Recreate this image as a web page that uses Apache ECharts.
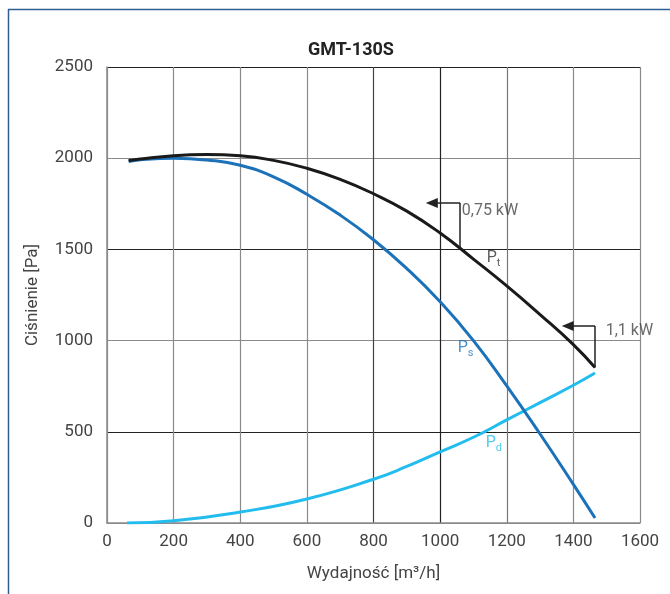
<!DOCTYPE html>
<html><head><meta charset="utf-8">
<script src="https://cdn.jsdelivr.net/npm/echarts@6/dist/echarts.min.js"></script>
<style>html,body{margin:0;padding:0;background:#fff}#c{width:670px;height:594px}</style>
</head><body><div id="c"></div>
<script>
// Data
const flowPt = [65, 100, 200, 300, 400, 500, 600, 700, 800, 900, 1000, 1100, 1200, 1300, 1400, 1465];
const valPt  = [1987, 1996, 2014, 2020, 2013, 1988, 1945, 1884, 1805, 1710, 1590, 1447, 1300, 1143, 978, 852];
const flowPs = [65, 100, 200, 300, 400, 500, 600, 700, 800, 900, 1000, 1100, 1200, 1300, 1400, 1465];
const valPs  = [1982, 1992, 2000, 1990, 1961, 1898, 1802, 1688, 1553, 1395, 1213, 1000, 752, 488, 212, 27];
const flowPd = [60, 200, 400, 600, 800, 900, 1000, 1100, 1200, 1300, 1400, 1465];
const valPd  = [0, 12, 60, 132, 240, 310, 390, 470, 565, 660, 755, 822];
// power markers: flow at curve, pressure at curve, top of marker, arrow tip flow
const powerLabels = ['0,75 kW', '1,1 kW'];
const powerFlow   = [1060, 1465];
const powerBase   = [1503, 852];
const powerTop    = [1754, 1080];
const powerTip    = [975, 1383];
const powerLabelPos = [[1065, 1712], [1497, 1055]];
const curveLabels = [['t', 1140, 1455, '#333'], ['s', 1053, 962, '#1b72b8'], ['d', 1137, 440, '#22bdee']];
const xTicks = [0, 200, 400, 600, 800, 1000, 1200, 1400, 1600];
const yTicks = [0, 500, 1000, 1500, 2000, 2500];
const titleText = 'GMT-130S';
const xName = 'Wydajność [m³/h]';
const yName = 'Ciśnienie [Pa]';

const FONT = "'Liberation Sans Narrow','Roboto',sans-serif";
const zip = (a, b) => a.map((v, i) => [v, b[i]]);

const markSegs = [];
powerFlow.forEach((f, i) => {
  markSegs.push([{coord: [f, powerBase[i]], symbol: 'none'}, {coord: [f, powerTop[i]], symbol: 'none'}]);
  markSegs.push([{coord: [f, powerTop[i]], symbol: 'none'}, {coord: [powerTip[i], powerTop[i]], symbol: 'triangle', symbolSize: [10, 12], symbolRotate: 90}]);
});

const chart = echarts.init(document.getElementById('c'));
chart.setOption({
  animation: false,
  title: {text: titleText, left: 346, top: 36, textAlign: 'center',
    textStyle: {fontFamily: FONT, fontSize: 18, fontWeight: 'bold', color: '#222'}},
  grid: {left: 107, right: 30, top: 67, bottom: 71},
  xAxis: {type: 'value', min: 0, max: 1600, interval: 200,
    name: xName, nameLocation: 'middle', nameGap: 42,
    nameTextStyle: {fontFamily: FONT, fontSize: 17, color: '#444'},
    axisLine: {lineStyle: {color: '#8a8a8a', width: 1.5}},
    axisTick: {show: false},
    axisLabel: {fontFamily: FONT, fontSize: 17, color: '#444', margin: 10,
      formatter: v => xTicks.includes(v) ? String(v) : ''},
    splitLine: {lineStyle: {color: ['#8a8a8a','#8a8a8a','#8a8a8a','#8a8a8a','#444','#222','#777','#8a8a8a','#8a8a8a'], width: 1.2}}},
  yAxis: {type: 'value', min: 0, max: 2500, interval: 500,
    name: yName, nameLocation: 'middle', nameGap: 66,
    nameTextStyle: {fontFamily: FONT, fontSize: 17, color: '#444'},
    axisLine: {lineStyle: {color: '#8a8a8a', width: 1.5}},
    axisTick: {show: false},
    axisLabel: {fontFamily: FONT, fontSize: 17, color: '#444', margin: 14,
      formatter: v => yTicks.includes(v) ? String(v) : ''},
    splitLine: {lineStyle: {color: ['#8a8a8a', '#222'], width: 1.2}}},
  graphic: [
    {type: 'line', shape: {x1: 8, y1: 9.5, x2: 670, y2: 9.5}, style: {stroke: '#2e5f92', lineWidth: 1.5}},
    {type: 'line', shape: {x1: 8.5, y1: 9, x2: 8.5, y2: 594}, style: {stroke: '#2e5f92', lineWidth: 1.5}}
  ],
  series: [
    {type: 'line', data: zip(flowPd, valPd), smooth: 0.5, showSymbol: false, lineStyle: {color: '#22bdee', width: 3}},
    {type: 'line', data: zip(flowPs, valPs), smooth: 0.5, showSymbol: false, lineStyle: {color: '#1b72b8', width: 3}},
    {type: 'line', data: zip(flowPt, valPt), smooth: 0.5, showSymbol: false, lineStyle: {color: '#1a1a1a', width: 3},
      markLine: {silent: true, animation: false, label: {show: false},
        lineStyle: {color: '#222', width: 1.5, type: 'solid'}, data: markSegs}},
    {type: 'scatter', symbolSize: 0, silent: true,
      data: powerLabels.map((t, i) => ({value: powerLabelPos[i], name: t})),
      label: {show: true, position: 'right', distance: 0, formatter: p => p.name,
        fontFamily: FONT, fontSize: 16, color: '#444'}},
    {type: 'scatter', symbolSize: 0, silent: true,
      data: curveLabels.map(c => ({value: [c[1], c[2]], name: c[0], itemStyle: {color: c[3]},
        label: {color: c[3], rich: {a: {fontFamily: FONT, fontSize: 16, color: c[3]}, b: {fontFamily: FONT, fontSize: 11, color: c[3], padding: [12, 0, 0, 0]}}}})),
      label: {show: true, position: 'right', distance: 0, formatter: p => '{a|P}{b|' + p.name + '}'}}
  ]
});
</script></body></html>
